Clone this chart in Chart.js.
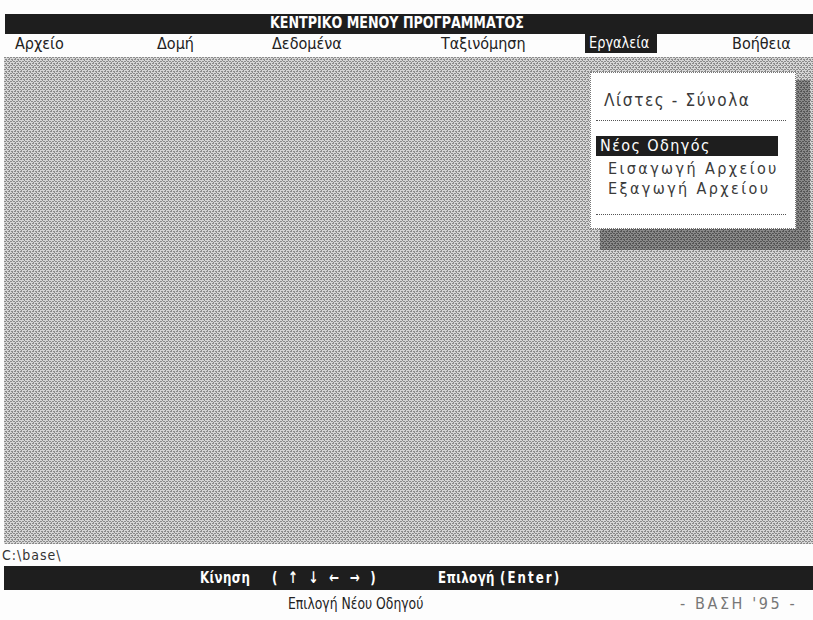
<!DOCTYPE html>
<html>
<head>
<meta charset="utf-8">
<script src="https://cdn.jsdelivr.net/npm/chart.js@4.4.0/dist/chart.umd.min.js"></script>
<style>
    body { margin: 0; background: #fff; }
    #screen { position: relative; width: 813px; height: 620px; overflow: hidden; background: #fdfdfd;
        font-family: "DejaVu Sans Condensed", "DejaVu Sans", sans-serif; font-size: 16px; color: #222; }
    #desk { position: absolute; left: 4px; top: 57px; width: 809px; height: 487px; }
    .t { position: absolute; white-space: pre; line-height: 20px; transform-origin: 0 0; }
    .bar { position: absolute; background: #1e1e1e; }
    #title { color: #fff; font-weight: bold; transform: scaleX(0.88); }
    .menu-box { position: absolute; background: #fff; border: 1px dotted #777; }
    .sel { color: #fff; }
    .dd { color: #3a3a3a; letter-spacing: 2.4px; }
    .st { color: #fff; font-weight: bold; transform: scaleX(0.82); }
</style>
</head>
<body>
<div id="screen">
    <div class="bar" style="left:5px; top:14px; width:808px; height:20px;"></div>
    <div class="t" id="title" style="left:270px; top:13px;"></div>
    <div id="desk"><canvas id="deskChart" width="809" height="487"></canvas></div>
    <div id="menu"></div>
    <div id="dropdown"></div>
    <div class="t" id="path" style="left:2px; top:545px; color:#333; font-size:14px; letter-spacing:1px;"></div>
    <div class="bar" style="left:4px; top:566px; width:809px; height:24px;"></div>
    <div id="status"></div>
    <div class="t" id="hint" style="left:288px; top:594px; transform:scaleX(0.86);"></div>
    <div class="t" id="brand" style="left:680px; top:594px; color:#777; letter-spacing:2.6px;"></div>
</div>
<script>
// Screen texts
const titleText = 'ΚΕΝΤΡΙΚΟ ΜΕΝΟΥ ΠΡΟΓΡΑΜΜΑΤΟΣ';
const menuLabels = ['Αρχείο', 'Δομή', 'Δεδομένα', 'Ταξινόμηση', 'Εργαλεία', 'Βοήθεια'];
const activeMenu = 4;
const dropdownItems = ['Λίστες - Σύνολα', 'Νέος Οδηγός', 'Εισαγωγή Αρχείου', 'Εξαγωγή Αρχείου'];
const activeItem = 1;
const statusKeys = ['Κίνηση', '( ↑ ↓ ← → )', 'Επιλογή', '(Enter)'];
const pathText = 'C:\\base\\';
const hintText = 'Επιλογή Νέου Οδηγού';
const brandText = '- ΒΑΣΗ \'95 -';

// Layout (pixel positions)
const menuX = [15, 157, 272, 441, 589, 732];
const itemY = [90, 136, 159, 179];
const statusX = [200, 272, 438, 500];
const statusSpacing = [0.5, 4, 0.5, 2.5];

document.getElementById('title').textContent = titleText;
document.getElementById('path').textContent = pathText;
document.getElementById('hint').textContent = hintText;
document.getElementById('brand').textContent = brandText;

// Menu row
const menu = document.getElementById('menu');
menu.innerHTML = menuLabels.map((m, i) => {
    if (i === activeMenu) {
        return `<div class="bar" style="left:${menuX[i] - 4}px; top:34px; width:72px; height:19px;"></div>
                <div class="t sel" style="left:${menuX[i]}px; top:33px; transform:scaleX(0.9);">${m}</div>`;
    }
    return `<div class="t" style="left:${menuX[i]}px; top:34px;">${m}</div>`;
}).join('');

// Dropdown menu
const dd = document.getElementById('dropdown');
dd.innerHTML = `
    <div class="menu-box" style="left:590px; top:72px; width:204px; height:155px;"></div>
    <div style="position:absolute; left:596px; top:120px; width:190px; border-top:1px dotted #555;"></div>
    <div style="position:absolute; left:596px; top:214px; width:190px; border-top:1px dotted #555;"></div>
    <div class="bar" style="left:596px; top:136px; width:182px; height:20px;"></div>
` + dropdownItems.map((it, i) => {
    const cls = i === activeItem ? 't sel' : 't dd';
    const left = i === 0 ? 604 : (i === activeItem ? 600 : 608);
    const extra = i === 0 ? 'font-size:17px; letter-spacing:1.6px;' : (i === activeItem ? 'letter-spacing:1.4px;' : '');
    return `<div class="${cls}" style="left:${left}px; top:${itemY[i]}px; ${extra}">${it}</div>`;
}).join('');

// Status bar
document.getElementById('status').innerHTML = statusKeys.map((s, i) =>
    `<div class="t st" style="left:${statusX[i]}px; top:568px; letter-spacing:${statusSpacing[i]}px;">${s}</div>`
).join('');

// Dithered desktop drawn as an empty Chart.js plot area
function ditherPattern(ctx, light, dark) {
    const c = document.createElement('canvas');
    c.width = 6; c.height = 4;
    const p = c.getContext('2d');
    p.fillStyle = light; p.fillRect(0, 0, 6, 4);
    p.fillStyle = dark;
    p.fillRect(0, 0, 2, 1); p.fillRect(3, 0, 2, 1);
    p.fillRect(1, 2, 2, 1); p.fillRect(4, 2, 2, 1);
    p.fillRect(5, 1, 1, 1); p.fillRect(2, 3, 1, 1);
    return ctx.createPattern(c, 'repeat');
}

const desktopPlugin = {
    id: 'desktop',
    beforeDraw(chart) {
        const { ctx, chartArea: a } = chart;
        ctx.save();
        ctx.fillStyle = ditherPattern(ctx, '#d6d6d6', '#8a8a8a');
        ctx.fillRect(a.left, a.top, a.right - a.left, a.bottom - a.top);
        // dropdown shadow
        ctx.fillStyle = ditherPattern(ctx, '#8a8a8a', '#555');
        ctx.fillRect(600 - 4, 227 - 57, 210, 23);
        ctx.fillRect(794 - 4, 80 - 57, 16, 150);
        ctx.restore();
    }
};

new Chart(document.getElementById('deskChart').getContext('2d'), {
    type: 'scatter',
    data: { datasets: [] },
    options: {
        responsive: false,
        animation: false,
        layout: { padding: 0 },
        plugins: { legend: { display: false }, tooltip: { enabled: false } },
        scales: { x: { display: false }, y: { display: false } }
    },
    plugins: [desktopPlugin]
});
</script>
</body>
</html>
